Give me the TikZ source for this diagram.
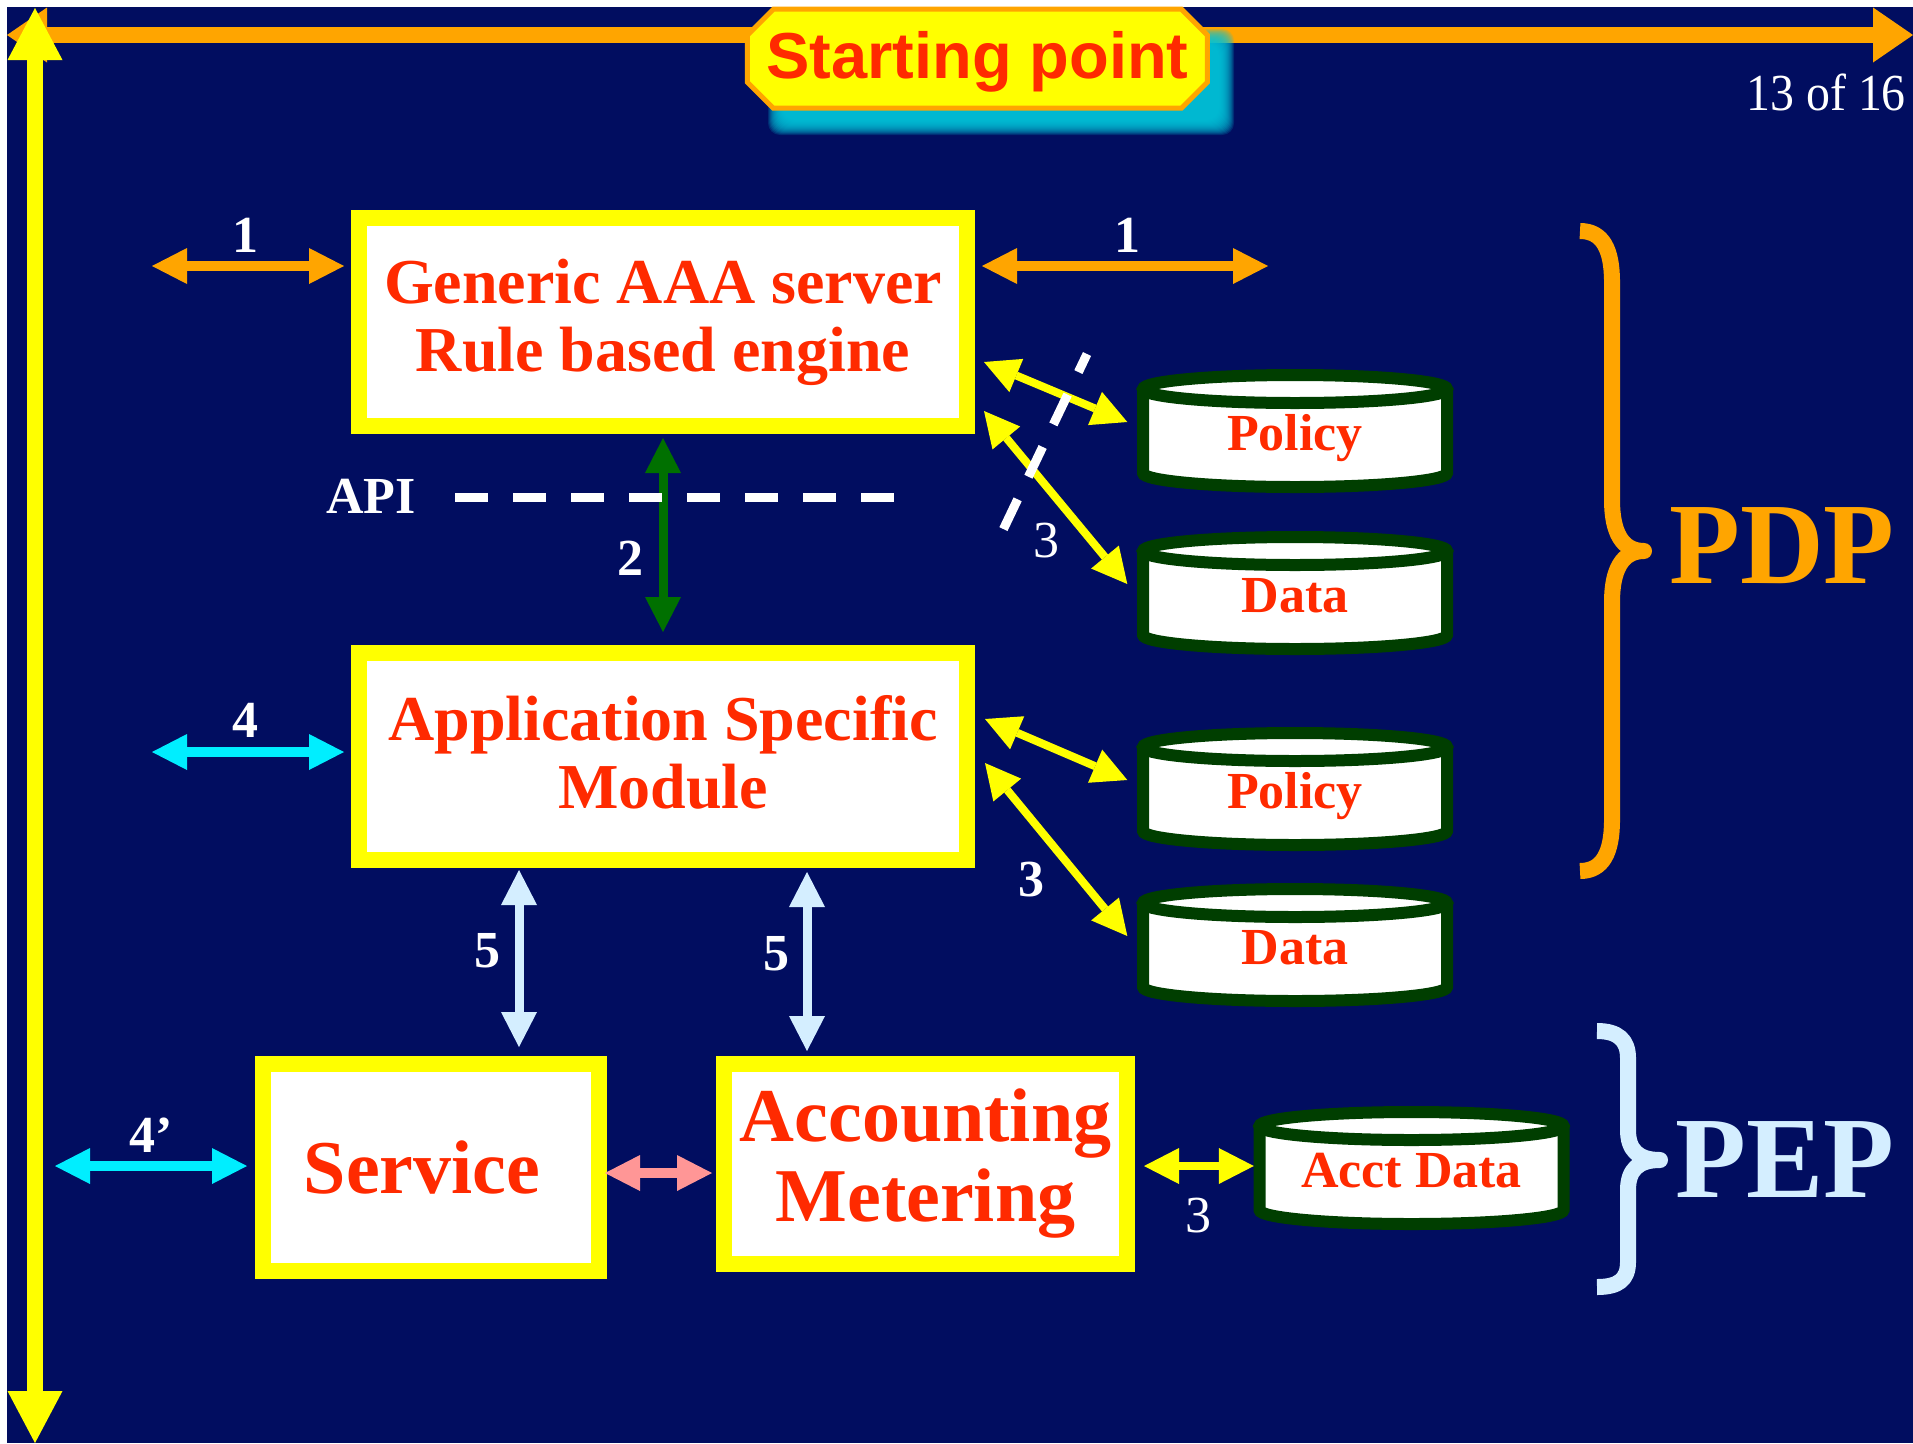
\documentclass[tikz,border=0pt]{standalone}
\usepackage{fontspec}
\setmainfont{Liberation Serif}
\newfontfamily\slidesans{Liberation Sans}
\usetikzlibrary{arrows.meta,shapes.misc,calc}

\definecolor{slidebg}{RGB}{1,13,96}
\definecolor{slidered}{RGB}{255,42,0}
\definecolor{slideorange}{RGB}{255,165,0}
\definecolor{slideyellow}{RGB}{255,255,0}
\definecolor{drumgreen}{RGB}{0,62,0}
\definecolor{linkgreen}{RGB}{0,112,0}
\definecolor{linkcyan}{RGB}{0,238,255}
\definecolor{paleblue}{RGB}{212,238,255}
\definecolor{linkpink}{RGB}{255,150,150}
\definecolor{glowcyan}{RGB}{0,196,218}

% a database drum: name, centre x, y of the top ellipse, label
\newcommand\drum[4]{%
  \filldraw[drumline] (#2-152,#3) -- (#2-152,#3+84)
     arc[start angle=180,end angle=0,x radius=152,y radius=14] -- (#2+152,#3);
  \filldraw[drumline] (#2,#3) ellipse[x radius=152,y radius=14];
  \node[drumtext] (#1) at (#2,#3+42) {#4};
}

\begin{document}
\begin{tikzpicture}[x=1pt,y=-1pt,
  box/.style={draw=slideyellow, line width=16pt, fill=white, text=slidered,
    align=center, inner sep=0pt, font=\bfseries\fontsize{64}{68}\selectfont},
  drumline/.style={draw=drumgreen, line width=12pt, fill=white},
  drumtext/.style={text=slidered, inner sep=0pt, minimum width=315pt,
    minimum height=124pt, text height=40pt, text depth=2pt,
    font=\bfseries\fontsize{52}{52}\selectfont},
  num/.style={text=white, inner sep=0pt, anchor=base,
    font=\bfseries\fontsize{52}{52}\selectfont},
  numthin/.style={num, font=\fontsize{52}{52}\selectfont},
  topbar/.style={draw=slideorange, line width=16pt,
    arrows={Triangle[length=40pt,width=55pt,line width=0pt]-Triangle[length=40pt,width=55pt,line width=0pt]}},
  sidebar/.style={draw=slideyellow, line width=16pt,
    arrows={Triangle[length=52pt,width=55pt,line width=0pt]-Triangle[length=52pt,width=55pt,line width=0pt]}},
  link/.style={line width=#1,
    arrows={Triangle[length=35pt,width=36pt,line width=0pt]-Triangle[length=35pt,width=36pt,line width=0pt]}},
  link/.default=10pt,
  dashline/.style={draw=white, line width=9pt, dash pattern=on 33pt off 25pt},
  brace/.style={line width=16pt, line join=round},
]
\useasboundingbox (0,0) rectangle (1913,1443);
\fill[white] (0,0) rectangle (1913,1443);
\fill[slidebg] (6.5,7) rectangle (1913,1443);

% title bar with its soft glow
\coordinate (topL) at (7,35);
\coordinate (topR) at (1913,35);
\draw[topbar] (topL) -- (topR);
\foreach \d in {0,1,...,15}
  \fill[glowcyan, opacity=0.17, rounded corners=12pt]
    (783-\d,44-\d) rectangle (1219+\d,120+\d);
\node[chamfered rectangle, chamfered rectangle xsep=13pt, chamfered rectangle ysep=13pt,
  draw=slideorange, fill=slideyellow, line width=5pt, minimum width=460pt,
  minimum height=99pt, inner sep=0pt, text=slidered,
  font=\slidesans\bfseries\fontsize{65}{65}\selectfont,
  text height=50pt, text depth=10pt] (start) at (977.4,58.7) {Starting point};
\node[anchor=base east, text=white, inner sep=0pt, xscale=0.92, transform shape,
  font=\fontsize{52}{52}\selectfont] (pageno) at (1906,110) {13 of 16};

% time axis
\coordinate (sideT) at (35,8);
\coordinate (sideB) at (35,1443);
\draw[sidebar] (sideT) -- (sideB);

% main blocks
\node[box, minimum width=608pt, minimum height=208pt] (aaa) at (663,322)
  {Generic AAA server\\Rule based engine};
\node[box, minimum width=608pt, minimum height=207pt, text depth=10pt] (asm) at (663,756.5)
  {Application Specific\\Module};
\node[box, minimum width=336pt, minimum height=207pt,
  font=\bfseries\fontsize{76}{80}\selectfont] (svc) at (431,1167.5) {\hspace*{-18pt}Service};
\node[box, minimum width=403pt, minimum height=200pt,
  font=\bfseries\fontsize{76}{80}\selectfont] (acc) at (925.5,1164)
  {Accounting\\Metering};

% repositories
\drum{pol1}{1295}{389}{Policy}
\drum{dat1}{1295}{551}{Data}
\drum{pol2}{1295}{747}{Policy}
\drum{dat2}{1295}{903}{Data}
\drum{acd}{1411.5}{1126}{Acct Data}

% interfaces 1 and 4
\coordinate (in1) at (152,266);
\coordinate (out1) at (1268,266);
\coordinate (in4) at (152,752);
\coordinate (in4b) at (55,1166);
\draw[link, slideorange] (in1) -- ([xshift=-7pt]in1 -| aaa.west);
\draw[link, slideorange] ([xshift=7pt]out1 -| aaa.east) -- (out1);
\draw[link, linkcyan] (in4) -- ([xshift=-7pt]in4 -| asm.west);
\draw[link, linkcyan] (in4b) -- ([xshift=-8pt]in4b -| svc.west);

% interface 2 and the API boundary
\draw[link=9pt, linkgreen] ([yshift=-4pt]aaa.south) -- ([yshift=13pt]asm.north);
\coordinate (apiL) at (455,497);
\coordinate (apiR) at (896,497);
\draw[dashline] (apiL) -- (apiR);

% interface 3 to the repositories
\draw[link=8pt, slideyellow] ($(aaa.north east)+(9,152)$) -- ($(pol1.west)+(-10,-9)$);
\draw[link=8pt, slideyellow] ($(aaa.north east)+(9,201)$) -- ($(dat1.west)+(-10,-9)$);
\draw[link=8pt, slideyellow] ($(asm.north east)+(10,74)$) -- ($(pol2.west)+(-10,-9)$);
\draw[link=8pt, slideyellow] ($(asm.north east)+(10,118)$) -- ($(dat2.west)+(-10,-9)$);
\draw[link=8pt, slideyellow] ($(acc.east)+(9,2)$) -- ($(acd.west)+(0,-2)$);
\coordinate (cutT) at (1087,354);
\coordinate (cutB) at (1003,530);
\draw[dashline, dash phase=13pt] (cutT) -- (cutB);

% interface 5 and service to accounting
\draw[link=9pt, paleblue] ($(svc.north |- asm.south)+(88,2)$) -- ($(svc.north)+(88,-9)$);
\draw[link=9pt, paleblue] ($(acc.north |- asm.south)+(-118.5,4)$) -- ($(acc.north)+(-118.5,-5)$);
\draw[link, linkpink] ($(svc.east)+(-2,5.5)$) -- ($(acc.west |- svc.east)+(-4,5.5)$);

% interface numbers
\node[num] (n1a) at (245,252) {1};
\node[num] (n1b) at (1127,252) {1};
\node[num] (api) at (371,513) {API};
\node[num] (n2) at (630,575) {2};
\node[numthin] (n3a) at (1046,557) {3};
\node[num] (n4) at (245,737) {4};
\node[num] (n3b) at (1031,896) {3};
\node[num] (n5a) at (487,967) {5};
\node[num] (n5b) at (776,970) {5};
\node[num] (n4b) at (151,1152) {4’};
\node[numthin] (n3c) at (1198,1232) {3};

% groupings
\draw[brace, slideorange] (1580,231) .. controls (1603,231) and (1612,250) .. (1612,282)
  -- (1612,500) .. controls (1612,532) and (1622,551) .. (1644,551)
  .. controls (1622,551) and (1612,570) .. (1612,602)
  -- (1612,820) .. controls (1612,852) and (1603,871) .. (1580,871);
\node[anchor=base west, inner sep=0pt, text=slideorange,
  font=\bfseries\fontsize{116}{116}\selectfont] (pdp) at (1669,583) {PDP};
\draw[brace, paleblue] (1597,1031) .. controls (1618,1031) and (1628,1040) .. (1628,1058)
  -- (1628,1130) .. controls (1628,1150) and (1638,1160) .. (1660,1160)
  .. controls (1638,1160) and (1628,1170) .. (1628,1190)
  -- (1628,1262) .. controls (1628,1280) and (1618,1287) .. (1597,1287);
\node[anchor=base west, inner sep=0pt, text=paleblue,
  font=\bfseries\fontsize{116}{116}\selectfont] (pep) at (1675,1197) {PEP};
\end{tikzpicture}
\end{document}
